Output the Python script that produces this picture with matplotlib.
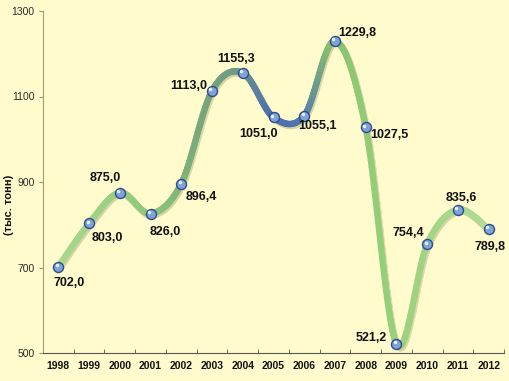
"""Production volume by year, smoothed line chart."""

import numpy as np
import matplotlib

matplotlib.use("Agg")
import matplotlib.pyplot as plt
from matplotlib.collections import LineCollection
from matplotlib.colors import LinearSegmentedColormap

years = ["1998", "1999", "2000", "2001", "2002", "2003", "2004", "2005",
         "2006", "2007", "2008", "2009", "2010", "2011", "2012"]
values = [702.0, 803.0, 875.0, 826.0, 896.4, 1113.0, 1155.3, 1051.0,
          1055.1, 1229.8, 1027.5, 521.2, 754.4, 835.6, 789.8]
labels = ["702,0", "803,0", "875,0", "826,0", "896,4", "1113,0", "1155,3", "1051,0",
          "1055,1", "1229,8", "1027,5", "521,2", "754,4", "835,6", "789,8"]
y_ticks = [500, 700, 900, 1100, 1300]
y_title = "(тыс. тонн)"

# label offsets in pixels (dx, dy)
offsets = [(11, -16), (18, -15), (-15, 15), (15, -18), (20, -13), (-23, 5), (-7, 14),
           (-15, -17), (13, -10), (22, 8), (24, -8), (-25, 6), (-19, 11), (3, 12), (1, -18)]

BG = "#FFFBCC"
FONT = ["Liberation Sans Narrow", "Liberation Sans", "DejaVu Sans"]


def smooth(x, y, n=30):
    """Catmull-Rom style smoothing like a spreadsheet's smoothed line."""
    x = np.asarray(x, float)
    y = np.asarray(y, float)
    px = np.concatenate([[x[0]], x, [x[-1]]])
    py = np.concatenate([[y[0]], y, [y[-1]]])
    xs, ys = [], []
    t = np.linspace(0, 1, n, endpoint=False)
    for i in range(1, len(px) - 2):
        p0, p1, p2, p3 = (np.array([px[j], py[j]]) for j in (i - 1, i, i + 1, i + 2))
        c1 = p1 + (p2 - p0) / 6
        c2 = p2 - (p3 - p1) / 6
        b = ((1 - t) ** 3)[:, None] * p1 + (3 * (1 - t) ** 2 * t)[:, None] * c1 \
            + (3 * (1 - t) * t ** 2)[:, None] * c2 + (t ** 3)[:, None] * p2
        xs.append(b[:, 0])
        ys.append(b[:, 1])
    xs.append([x[-1]])
    ys.append([y[-1]])
    return np.concatenate(xs), np.concatenate(ys)


fig = plt.figure(figsize=(5.10, 3.81), dpi=100, facecolor=BG)
ax = fig.add_axes([43 / 510, 28 / 381, 461 / 510, 342 / 381])
ax.set_facecolor(BG)

xpos = np.arange(len(years))
sx, sy = smooth(xpos, values)

cmap = LinearSegmentedColormap.from_list(
    "line", [(0.0, "#A9D98C"), (0.22, "#8CC878"), (0.33, "#78A878"),
             (0.42, "#6E9A86"), (0.5, "#4A6DB4"), (0.57, "#5176AE"),
             (0.63, "#86BE6E"), (0.7, "#8FCB72"), (1.0, "#B0DC95")])
pts = np.column_stack([sx, sy]).reshape(-1, 1, 2)
segs = np.concatenate([pts[:-1], pts[1:]], axis=1)
# soft shadow under the line
ax.add_collection(LineCollection(segs + np.array([0.04, -4]), colors="#D8D3A0",
                                 linewidths=5, alpha=0.7, capstyle="round", zorder=2))
lc = LineCollection(segs, cmap=cmap, linewidths=4.6, capstyle="round", zorder=3)
lc.set_array((sx[:-1] + sx[1:]) / 2 / (len(years) - 1))
lc.set_clim(0, 1)
ax.add_collection(lc)

ax.plot(xpos, values, "o", ms=7.2, mfc="#7FA3D6", mec="#2E4C8C", mew=1.0, zorder=4)
ax.plot(xpos - 0.05, np.array(values) + 4, "o", ms=2.5, mfc="#E6F0FF", mec="none", zorder=5)

for x, v, lab, (dx, dy) in zip(xpos, values, labels, offsets):
    ax.annotate(lab, (x, v), xytext=(dx, dy), textcoords="offset pixels",
                ha="center", va="center", fontsize=9, fontweight="bold",
                family=FONT, color="#111111", zorder=6)

ax.set_xlim(-0.5, len(years) - 0.5)
ax.set_ylim(500, 1300)
ax.set_yticks(y_ticks)
ax.set_yticklabels([str(t) for t in y_ticks], family=FONT, fontsize=7.5, color="#2A2A2A")
ax.set_xticks(xpos)
ax.set_xticklabels(years, family=FONT, fontsize=7.5, fontweight="bold", color="#111111")
ax.set_xticks(np.arange(-0.5, len(years)), minor=True)
ax.tick_params(axis="x", which="major", length=0, pad=6)
ax.tick_params(axis="x", which="minor", length=3, direction="in", color="#555555")
ax.tick_params(axis="y", length=3, direction="out", color="#A09270", pad=3)

for side in ("top", "right"):
    ax.spines[side].set_visible(False)
ax.spines["left"].set_color("#A89A78")
ax.spines["bottom"].set_color("#555555")

fig.text(9 / 510, 1 - 205 / 381, y_title, rotation=90, ha="center", va="center",
         fontsize=8, fontweight="bold", family=FONT, color="#111111")

fig.savefig("out.png", dpi=100, facecolor=BG)
